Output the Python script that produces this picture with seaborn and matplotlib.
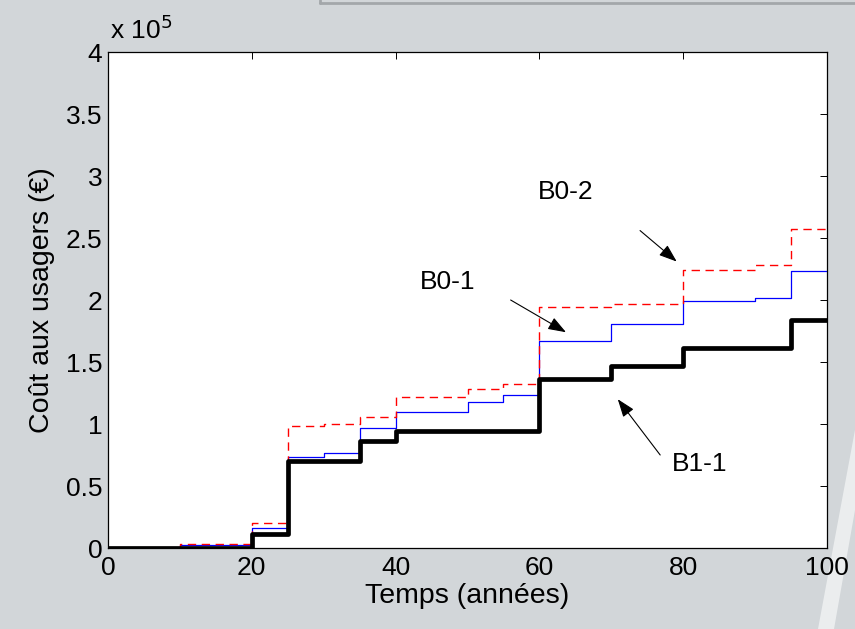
import numpy as np
import pandas as pd
import matplotlib
matplotlib.use("Agg")
import matplotlib.pyplot as plt
import seaborn as sns
from matplotlib.lines import Line2D
from matplotlib.patches import Polygon
from matplotlib.ticker import FuncFormatter

# Step breakpoints (year at which each cost level starts) and cumulative user cost (€)
years_b11 = [0, 20, 25, 35, 40, 60, 70, 80, 95, 100]
cost_b11 = [0, 11000, 70000, 86000, 94000, 136000, 147000, 161000, 184000, 184000]

years_b0 = [0, 10, 20, 25, 30, 35, 40, 50, 55, 60, 70, 80, 90, 95, 100]
cost_b01 = [0, 2500, 16000, 73000, 77000, 97000, 110000, 118000, 123000,
            167000, 181000, 199000, 202000, 223000, 223000]
cost_b02 = [0, 3000, 20000, 98000, 100000, 106000, 122000, 128000, 132000,
            194000, 197000, 224000, 228000, 257000, 257000]

x_ticks = [0, 20, 40, 60, 80, 100]
y_ticks = [0, 50000, 100000, 150000, 200000, 250000, 300000, 350000, 400000]

labels = ["B0-2", "B0-1", "B1-1"]
label_xy = [(63.7, 287000), (47.3, 214500), (82.3, 67700)]
arrow_tail = [(74.0, 256000), (56.0, 200000), (76.8, 75000)]
arrow_head = [(79.1, 231000), (63.7, 174000), (70.9, 120000)]

sns.set_theme(style="white")
plt.rcParams["font.family"] = ["Liberation Sans", "DejaVu Sans"]

bg = "#d2d6d9"
fig = plt.figure(figsize=(8.55, 6.29), dpi=100, facecolor=bg)
ax = fig.add_axes([108 / 855, 1 - 548 / 629, (827 - 108) / 855, (548 - 52) / 629])
ax.set_facecolor("white")

df_b01 = pd.DataFrame({"year": years_b0, "cost": cost_b01})
df_b02 = pd.DataFrame({"year": years_b0, "cost": cost_b02})
df_b11 = pd.DataFrame({"year": years_b11, "cost": cost_b11})

sns.lineplot(data=df_b01, x="year", y="cost", ax=ax, color="#0000ff",
             lw=0.9, drawstyle="steps-post", zorder=3)
sns.lineplot(data=df_b02, x="year", y="cost", ax=ax, color="#ff0000",
             lw=1.0, drawstyle="steps-post", dashes=False, zorder=4,
             linestyle=(0, (6, 4)))
sns.lineplot(data=df_b11, x="year", y="cost", ax=ax, color="black",
             lw=3.4, drawstyle="steps-post", zorder=5)

ax.set_xlim(0, 100)
ax.set_ylim(0, 400000)
ax.set_xticks(x_ticks)
ax.set_yticks(y_ticks)
ax.yaxis.set_major_formatter(FuncFormatter(lambda v, p: f"{v / 1e5:g}"))
ax.tick_params(direction="in", length=5, width=0.7, colors="black",
               labelsize=19, top=True, right=True, pad=4)
ax.tick_params(axis="x", pad=6)
for s in ax.spines.values():
    s.set_visible(True)
    s.set_color("black")
    s.set_linewidth(0.9)
ax.grid(False)

ax.set_xlabel("Temps (années)", fontsize=20.5, color="black", labelpad=2)
ax.set_ylabel("Coût aux usagers (€)", fontsize=20.5, color="black", labelpad=8)

fig.text(110 / 855, 1 - 39 / 629, r"x 10$^{5}$", fontsize=19, color="black",
         ha="left", va="baseline")

for lab, (tx, ty), tail, head in zip(labels, label_xy, arrow_tail, arrow_head):
    ax.text(tx, ty, lab, fontsize=19, ha="center", va="center", color="black")
    ax.annotate("", xy=head, xytext=tail,
                arrowprops=dict(arrowstyle="-|>,head_length=1.1,head_width=0.4",
                                color="black", lw=0.8, shrinkA=0, shrinkB=0,
                                mutation_scale=10))

# Decorative page elements around the plot
fig.add_artist(Line2D([320 / 855, 1], [1 - 3 / 629, 1 - 3 / 629],
                      color="#a3a7aa", lw=2.0, transform=fig.transFigure))
fig.add_artist(Line2D([320 / 855, 320 / 855], [1, 1 - 3 / 629],
                      color="#a3a7aa", lw=2.0, transform=fig.transFigure))
band = Polygon([(1.0, 1 - 430 / 629), (1.0, 1 - 510 / 629),
                (834 / 855, 0.0), (818 / 855, 0.0)],
               closed=True, transform=fig.transFigure, facecolor="#eef0f1",
               edgecolor="none", alpha=0.9, zorder=-1)
fig.add_artist(band)

fig.savefig("out.png", dpi=100, facecolor=bg)
